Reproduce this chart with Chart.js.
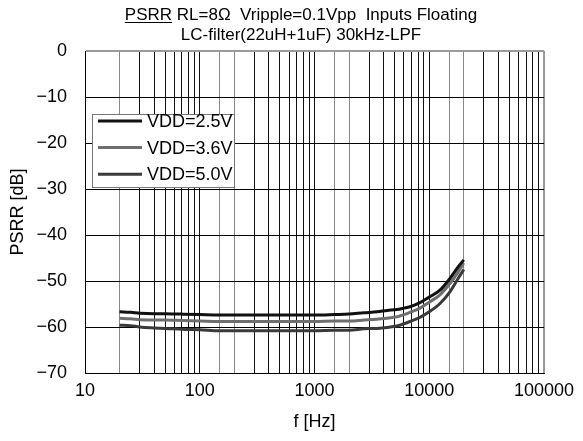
<!DOCTYPE html>
<html>
<head>
<meta charset="utf-8">
<script src="https://cdn.jsdelivr.net/npm/chart.js@4"></script>
<style>
  html, body { margin: 0; padding: 0; background: #fff; }
</style>
</head>
<body>
<canvas id="my-chart" width="583" height="441"></canvas>
<script>
const titleLine1 = "PSRR RL=8Ω  Vripple=0.1Vpp  Inputs Floating";
const titleUnderlined = "PSRR";
const titleLine2 = "LC-filter(22uH+1uF) 30kHz-LPF";

const freqs = [20, 25, 30, 40, 50, 70, 100, 150, 200, 300, 500, 700, 1000, 1500, 2000,
  2700, 3500, 4300, 5200, 6000, 6800, 8300, 10000, 12400, 15200, 17900, 20000];

const vdd25 = [-56.7, -56.8, -57.0, -57.1, -57.1, -57.2, -57.3, -57.4, -57.4, -57.4, -57.4, -57.4, -57.4, -57.3, -57.2,
  -56.9, -56.7, -56.4, -56.2, -55.9, -55.6, -54.7, -53.5, -52.0, -49.4, -46.9, -45.4];
const vdd36 = [-58.1, -58.2, -58.4, -58.5, -58.5, -58.6, -58.7, -58.8, -58.8, -58.8, -58.8, -58.8, -58.8, -58.7, -58.7,
  -58.5, -58.3, -58.1, -57.8, -57.3, -56.8, -55.9, -54.6, -53.0, -50.5, -48.0, -46.1];
const vdd50 = [-59.6, -59.7, -60.0, -60.2, -60.3, -60.5, -60.6, -60.8, -60.8, -60.8, -60.8, -60.8, -60.8, -60.7, -60.7,
  -60.4, -60.3, -60.1, -59.8, -59.3, -58.8, -57.9, -56.7, -54.9, -52.3, -49.4, -47.5];

const seriesNames = ["VDD=2.5V", "VDD=3.6V", "VDD=5.0V"];
const xTickValues = [10, 100, 1000, 10000, 100000];

const FONT = "'Liberation Sans', Arial, sans-serif";

function pts(ys) {
  return freqs.map((f, i) => ({ x: f, y: ys[i] }));
}

// title with underlined "PSRR"
const titlePlugin = {
  id: "titleText",
  afterDraw(chart) {
    const ctx = chart.ctx;
    ctx.save();
    ctx.font = "17px " + FONT;
    ctx.fillStyle = "#000";
    ctx.textAlign = "center";
    ctx.textBaseline = "middle";
    const cx = 301;
    ctx.fillText(titleLine1, cx, 15);
    ctx.fillText(titleLine2, cx, 35);
    const w = ctx.measureText(titleLine1).width;
    const wu = ctx.measureText(titleUnderlined).width;
    const x0 = cx - w / 2;
    ctx.strokeStyle = "#000";
    ctx.lineWidth = 1;
    ctx.beginPath();
    ctx.moveTo(x0, 22.5);
    ctx.lineTo(x0 + wu, 22.5);
    ctx.stroke();
    ctx.restore();
  },
};

// boxed legend inside the plot
const legendPlugin = {
  id: "boxLegend",
  afterDraw(chart) {
    const ctx = chart.ctx;
    ctx.save();
    ctx.fillStyle = "#fff";
    ctx.fillRect(92, 114, 142, 73);
    ctx.strokeStyle = "#777";
    ctx.lineWidth = 1;
    ctx.strokeRect(92.5, 114.5, 142, 73);
    ctx.font = "18px " + FONT;
    ctx.textAlign = "left";
    ctx.textBaseline = "middle";
    chart.data.datasets.forEach((ds, i) => {
      const y = 121 + i * 26.6;
      ctx.strokeStyle = ds.borderColor;
      ctx.lineWidth = 3;
      ctx.beginPath();
      ctx.moveTo(98, y);
      ctx.lineTo(142, y);
      ctx.stroke();
      ctx.fillStyle = "#000";
      ctx.fillText(ds.label, 147, y + 1);
    });
    ctx.restore();
  },
};

const config = {
  type: "line",
  data: {
    datasets: [
      { label: seriesNames[0], data: pts(vdd25), borderColor: "#111111" },
      { label: seriesNames[1], data: pts(vdd36), borderColor: "#6e6e6e" },
      { label: seriesNames[2], data: pts(vdd50), borderColor: "#3a3a3a" },
    ],
  },
  options: {
    responsive: false,
    animation: false,
    layout: { padding: { top: 51, right: 39, left: 0, bottom: 0 } },
    elements: {
      point: { radius: 0 },
      line: { borderWidth: 3, cubicInterpolationMode: "monotone" },
    },
    plugins: {
      legend: { display: false },
      title: { display: false },
      tooltip: { enabled: false },
    },
    scales: {
      x: {
        type: "logarithmic",
        min: 10,
        max: 100000,
        afterFit(scale) { scale.height = 68; },
        ticks: {
          autoSkip: false,
          maxRotation: 0,
          padding: 7,
          color: "#000",
          font: { family: FONT, size: 18 },
          callback: (v) => (xTickValues.includes(v) ? String(v) : ""),
        },
        grid: {
          drawTicks: false,
          color: (c) => {
            const v = c.tick ? c.tick.value : 0;
            if (v === 100000) return "#9a9a9a";
            const s = Math.round(v / Math.pow(10, Math.floor(Math.log10(v) + 1e-9)));
            return s === 2 ? "#888" : "#111";
          },
          lineWidth: (c) => (c.tick && c.tick.value === 100000 ? 2 : 1),
        },
        border: { color: "#000", width: 1 },
        title: {
          display: true,
          text: "f [Hz]",
          color: "#000",
          font: { family: FONT, size: 18 },
          padding: { top: 0, bottom: 8 },
        },
      },
      y: {
        min: -70,
        max: 0,
        afterFit(scale) { scale.width = 85; },
        ticks: {
          stepSize: 10,
          padding: 18,
          color: "#000",
          font: { family: FONT, size: 18 },
          callback: (v) => (v < 0 ? "\u2212" + Math.abs(v) : String(v)),
        },
        grid: {
          drawTicks: false,
          color: (c) => (c.tick && c.tick.value === 0 ? "#9a9a9a" : "#000"),
          lineWidth: (c) => (c.tick && c.tick.value === 0 ? 2 : 1),
        },
        border: { color: "#000", width: 1 },
        title: {
          display: true,
          text: "PSRR [dB]",
          color: "#000",
          font: { family: FONT, size: 18 },
          padding: { top: 7, bottom: 0 },
        },
      },
    },
  },
  plugins: [titlePlugin, legendPlugin],
};

const myChart = new Chart(document.getElementById("my-chart"), config);
</script>
</body>
</html>
